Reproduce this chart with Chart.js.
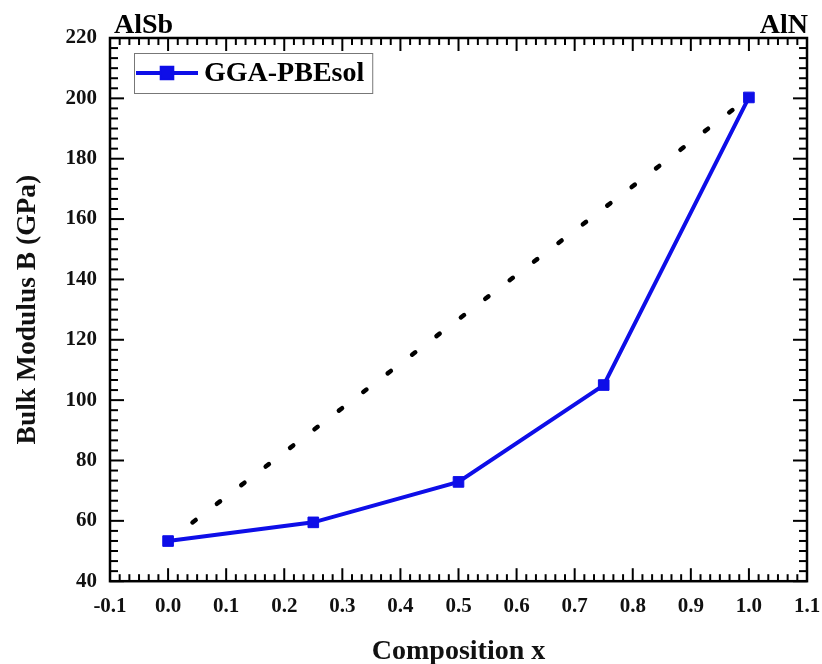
<!DOCTYPE html>
<html lang="en">
<head>
    <meta charset="UTF-8">
    <title>Bulk modulus vs composition</title>
    <script src="https://cdn.jsdelivr.net/npm/chart.js"></script>
    <style>
        html, body { margin: 0; padding: 0; background: #fff; }
        #wrap { width: 822px; height: 664px; }
    </style>
</head>
<body>
    <div id="wrap"><canvas id="myChart" width="822" height="664"></canvas></div>
    <script>
        // Input data
        const composition = [0.0, 0.25, 0.5, 0.75, 1.0];
        const bulkModulus = [53.3, 59.5, 72.9, 105.0, 200.3];
        // straight line between the two binary end members
        const vegardX = [0.0, 1.0];
        const vegardB = [53.3, 200.3];
        const xTicks = [-0.1, 0.0, 0.1, 0.2, 0.3, 0.4, 0.5, 0.6, 0.7, 0.8, 0.9, 1.0, 1.1];
        const yTicks = [40, 60, 80, 100, 120, 140, 160, 180, 200, 220];
        const seriesName = 'GGA-PBEsol';
        const leftLabel = 'AlSb';
        const rightLabel = 'AlN';

        const FONT = '"Liberation Serif", "Times New Roman", serif';
        const BLUE = 'rgb(14, 14, 232)';

        // frame, inward ticks on all four sides, legend and end-member labels
        const framePlugin = {
            id: 'frame',
            afterDatasetsDraw(chart) {
                const { ctx, chartArea: a, scales } = chart;
                const xs = scales.x, ys = scales.y;
                ctx.save();
                ctx.strokeStyle = '#000';
                ctx.lineWidth = 2;

                const tick = (x1, y1, x2, y2) => {
                    ctx.beginPath();
                    ctx.moveTo(x1, y1);
                    ctx.lineTo(x2, y2);
                    ctx.stroke();
                };

                // x ticks (bottom and top)
                for (let i = 0; i < xTicks.length; i++) {
                    const px = xs.getPixelForValue(xTicks[i]);
                    tick(px, a.bottom, px, a.bottom - 13);
                    tick(px, a.top, px, a.top + 13);
                    if (i < xTicks.length - 1) {
                        const step = (xTicks[i + 1] - xTicks[i]) / 6;
                        for (let j = 1; j < 6; j++) {
                            const mx = xs.getPixelForValue(xTicks[i] + j * step);
                            tick(mx, a.bottom, mx, a.bottom - 7);
                            tick(mx, a.top, mx, a.top + 7);
                        }
                    }
                }
                // y ticks (left and right)
                for (let i = 0; i < yTicks.length; i++) {
                    const py = ys.getPixelForValue(yTicks[i]);
                    tick(a.left, py, a.left + 14, py);
                    tick(a.right, py, a.right - 14, py);
                    if (i < yTicks.length - 1) {
                        const step = (yTicks[i + 1] - yTicks[i]) / 6;
                        for (let j = 1; j < 6; j++) {
                            const my = ys.getPixelForValue(yTicks[i] + j * step);
                            tick(a.left, my, a.left + 8, my);
                            tick(a.right, my, a.right - 8, my);
                        }
                    }
                }
                ctx.lineWidth = 2.5;
                ctx.strokeRect(a.left, a.top, a.right - a.left, a.bottom - a.top);

                // legend box
                const ds = chart.data.datasets[0];
                ctx.font = 'bold 28px ' + FONT;
                const tw = ctx.measureText(ds.label).width;
                const bx = a.left + 24, by = a.top + 15, bh = 40;
                const bw = 70 + tw + 8;
                ctx.fillStyle = '#fff';
                ctx.fillRect(bx, by, bw, bh);
                ctx.strokeStyle = '#777';
                ctx.lineWidth = 1;
                ctx.strokeRect(bx + 0.5, by + 0.5, bw, bh);
                const ly = by + 20;
                ctx.strokeStyle = ds.borderColor;
                ctx.lineWidth = ds.borderWidth;
                tick(bx + 2, ly, bx + 64, ly);
                Chart.helpers.drawPoint(ctx, {
                    pointStyle: ds.pointStyle,
                    radius: ds.pointRadius,
                    borderWidth: 1
                }, bx + 33, ly);
                ctx.fillStyle = ds.pointBackgroundColor;
                ctx.fill();
                ctx.fillStyle = '#000';
                ctx.textBaseline = 'middle';
                ctx.textAlign = 'left';
                ctx.fillText(ds.label, bx + 70, ly + 1);

                // end-member labels above the frame
                ctx.textBaseline = 'alphabetic';
                ctx.font = 'bold 28px ' + FONT;
                ctx.fillText(leftLabel, a.left + 4, a.top - 5);
                ctx.textAlign = 'right';
                ctx.fillText(rightLabel, a.right + 1, a.top - 5);
                ctx.restore();
            }
        };

        const ctx = document.getElementById('myChart').getContext('2d');
        const myChart = new Chart(ctx, {
            type: 'line',
            data: {
                datasets: [{
                    label: seriesName,
                    data: composition.map((x, i) => ({ x: x, y: bulkModulus[i] })),
                    borderColor: BLUE,
                    backgroundColor: BLUE,
                    pointBackgroundColor: BLUE,
                    pointBorderColor: BLUE,
                    borderWidth: 4,
                    pointStyle: 'rect',
                    pointRadius: 7.5,
                    pointBorderWidth: 1,
                    tension: 0
                }, {
                    label: 'linear',
                    data: vegardX.map((x, i) => ({ x: x, y: vegardB[i] })),
                    borderColor: '#000',
                    borderWidth: 4.5,
                    borderDash: [4, 26.7],
                    borderCapStyle: 'round',
                    pointRadius: 0,
                    tension: 0
                }]
            },
            options: {
                responsive: false,
                animation: false,
                layout: { padding: { top: 38, right: 0, left: 6, bottom: 0 } },
                plugins: {
                    legend: { display: false },
                    tooltip: { enabled: false }
                },
                scales: {
                    x: {
                        type: 'linear',
                        min: -0.1,
                        max: 1.1,
                        afterBuildTicks: (axis) => { axis.ticks = xTicks.map(v => ({ value: v })); },
                        // keep just enough room on the right for the last label
                        afterFit: (axis) => { axis.paddingRight = 15; },
                        grid: { display: false, drawTicks: false },
                        border: { display: false },
                        ticks: {
                            padding: 14,
                            color: '#111',
                            font: { family: FONT, size: 21, weight: 'bold', lineHeight: 1.1 },
                            callback: (v) => v.toFixed(1)
                        },
                        title: {
                            display: true,
                            text: 'Composition x',
                            color: '#111',
                            padding: { top: 6.5, bottom: 0 },
                            font: { family: FONT, size: 28, weight: 'bold', lineHeight: 0.9 }
                        }
                    },
                    y: {
                        type: 'linear',
                        min: 40,
                        max: 220,
                        afterBuildTicks: (axis) => { axis.ticks = yTicks.map(v => ({ value: v })); },
                        grid: { display: false, drawTicks: false },
                        border: { display: false },
                        ticks: {
                            padding: 13,
                            color: '#111',
                            font: { family: FONT, size: 21, weight: 'bold' },
                            callback: (v) => String(v)
                        },
                        title: {
                            display: true,
                            text: 'Bulk Modulus B (GPa)',
                            color: '#111',
                            padding: { top: 8, bottom: 11 },
                            font: { family: FONT, size: 27.5, weight: 'bold', lineHeight: 1 }
                        }
                    }
                }
            },
            plugins: [framePlugin]
        });
    </script>
</body>
</html>
